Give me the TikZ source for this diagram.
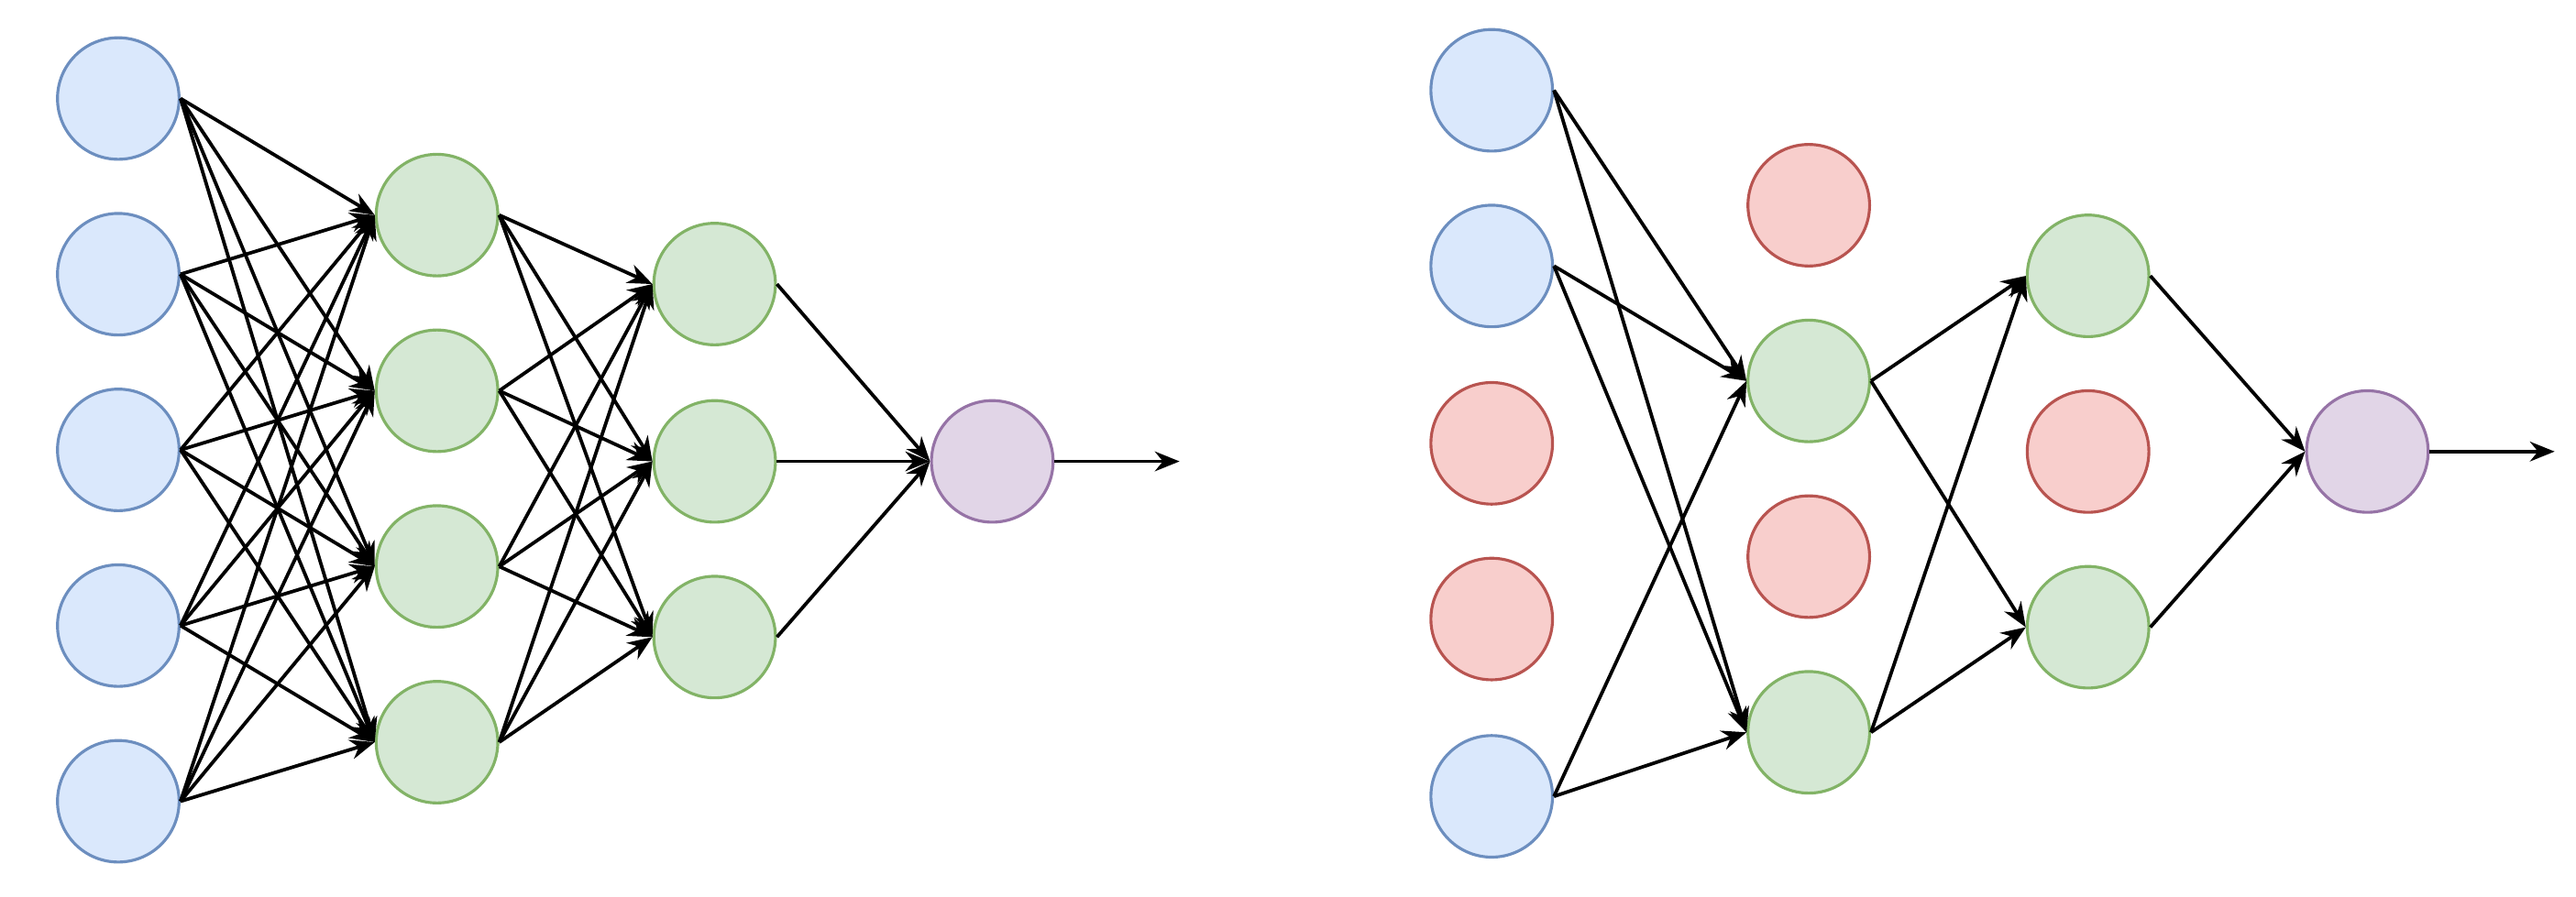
\documentclass[tikz,border=0pt]{standalone}
\usetikzlibrary{arrows.meta}
\definecolor{bf}{HTML}{DAE8FC}\definecolor{bs}{HTML}{6C8EBF}
\definecolor{gf}{HTML}{D5E8D4}\definecolor{gs}{HTML}{82B366}
\definecolor{rf}{HTML}{F8CECC}\definecolor{rs}{HTML}{B85450}
\definecolor{pf}{HTML}{E1D5E7}\definecolor{ps}{HTML}{9673A6}
\begin{document}
\begin{tikzpicture}[x=0.01cm,y=-0.01cm,
  n/.style={circle,minimum size=0.74cm,inner sep=0pt,line width=0.5pt},
  B/.style={n,fill=bf,draw=bs},G/.style={n,fill=gf,draw=gs},
  R/.style={n,fill=rf,draw=rs},P/.style={n,fill=pf,draw=ps},
  c/.style={-{Stealth[length=0.15cm,width=0.12cm]},line width=0.6pt}]
\useasboundingbox (0,0) rectangle (1568,546);
% left
\foreach \y [count=\i] in {60,167,274,381,488} \node[B] (a\i) at (72,\y) {};
\foreach \y [count=\i] in {131,238,345,452} \node[G] (b\i) at (266,\y) {};
\foreach \y [count=\i] in {173,281,388} \node[G] (c\i) at (435,\y) {};
\node[P] (d) at (604,281) {};
\coordinate (e) at (718,281);
\foreach \i in {1,...,5}\foreach \j in {1,...,4} \draw[c] (a\i.east) -- (b\j.west);
\foreach \i in {1,...,4}\foreach \j in {1,...,3} \draw[c] (b\i.east) -- (c\j.west);
\foreach \j in {1,...,3} \draw[c] (c\j.east) -- (d.west);
\draw[c] (d.east) -- (e);
% right
\node[B] (A1) at (908,55) {};\node[B] (A2) at (908,162) {};
\node[R] (A3) at (908,270) {};\node[R] (A4) at (908,377) {};
\node[B] (A5) at (908,485) {};
\node[R] (B1) at (1101,125) {};\node[G] (B2) at (1101,232) {};
\node[R] (B3) at (1101,339) {};\node[G] (B4) at (1101,446) {};
\node[G] (C1) at (1271,168) {};\node[R] (C2) at (1271,275) {};
\node[G] (C3) at (1271,382) {};
\node[P] (D) at (1441,275) {};
\coordinate (E) at (1555,275);
\foreach \i in {1,2,5}\foreach \j in {2,4} \draw[c] (A\i.east) -- (B\j.west);
\foreach \i in {2,4}\foreach \j in {1,3} \draw[c] (B\i.east) -- (C\j.west);
\foreach \j in {1,3} \draw[c] (C\j.east) -- (D.west);
\draw[c] (D.east) -- (E);
\end{tikzpicture}
\end{document}
